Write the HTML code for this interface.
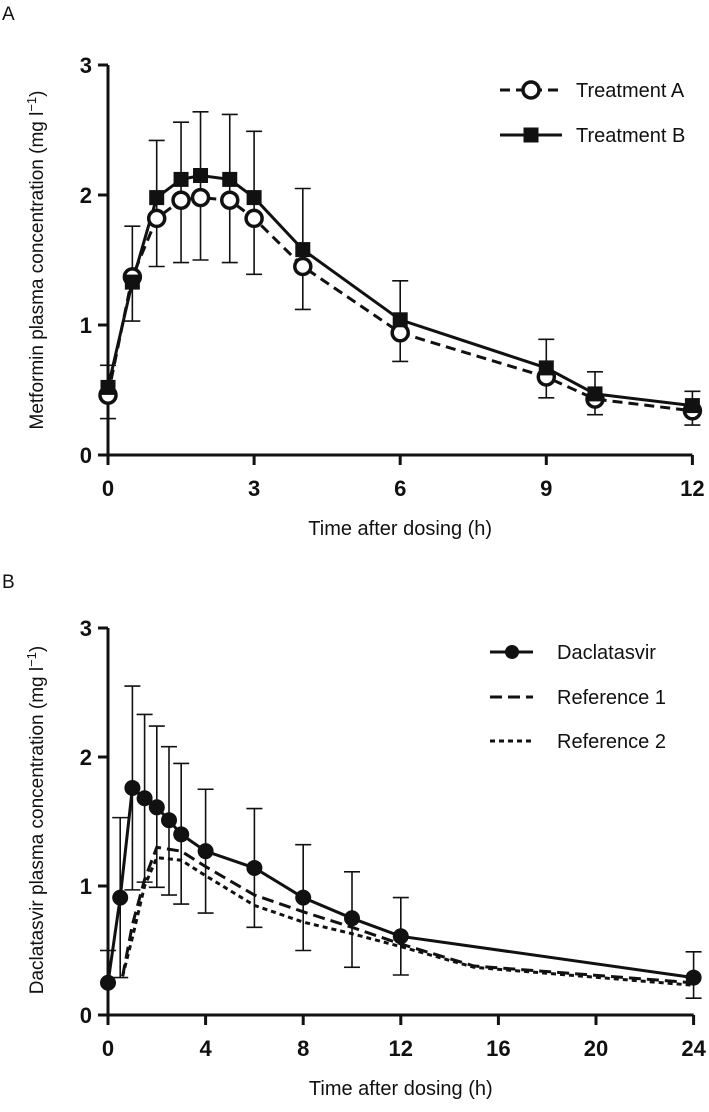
<!DOCTYPE html>
<html><head><meta charset="utf-8"><style>
html,body{margin:0;padding:0;background:#fff}
svg text{font-family:"Liberation Sans",sans-serif;fill:#111}
</style></head><body>
<svg id="c" width="709" height="1107" viewBox="0 0 709 1107">
<text x="2" y="20" font-size="19">A</text>
<text x="2" y="588" font-size="19">B</text>
</svg>
<script>
// Panel A data
const aTimes=[0,0.5,1,1.5,1.9,2.5,3,4,6,9,10,12];
const trtA=[0.46,1.37,1.82,1.96,1.98,1.96,1.82,1.45,0.94,0.60,0.43,0.34];
const trtB=[0.52,1.33,1.98,2.12,2.15,2.12,1.98,1.58,1.04,0.67,0.47,0.38];
const aErrHi=[0.69,1.76,2.42,2.56,2.64,2.62,2.49,2.05,1.34,0.89,0.64,0.49];
const aErrLo=[0.28,1.03,1.45,1.48,1.50,1.48,1.39,1.12,0.72,0.44,0.31,0.23];
const aXTicks=[0,3,6,9,12];
const yTicks=[0,1,2,3];
// Panel B data
const bTimes=[0,0.5,1,1.5,2,2.5,3,4,6,8,10,12,24];
const dacla=[0.25,0.91,1.76,1.68,1.61,1.51,1.40,1.27,1.14,0.91,0.75,0.61,0.29];
const bErrHi=[0.50,1.53,2.55,2.33,2.24,2.08,1.95,1.75,1.60,1.32,1.11,0.91,0.49];
const bErrLo=[0.25,0.29,0.97,1.03,0.99,0.93,0.86,0.79,0.68,0.50,0.37,0.31,0.13];
const refTimes=[0.6,1,1.5,2,3,4,6,8,10,12,15,24];
const ref1=[0.30,0.70,1.05,1.30,1.27,1.15,0.93,0.80,0.68,0.55,0.38,0.25];
const ref2=[0.30,0.60,1.00,1.22,1.20,1.08,0.85,0.72,0.63,0.53,0.37,0.23];
const bXTicks=[0,4,8,12,16,20,24];

const svg=document.getElementById('c');
const NS='http://www.w3.org/2000/svg';
function mk(tag,attrs,name,parent){
  const e=document.createElementNS(NS,tag);
  for(const k in attrs)e.setAttribute(k,attrs[k]);
  
  
  (parent||svg).appendChild(e);return e;
}
function poly(xs,ys,sx,sy){return xs.map((t,i)=>sx(t).toFixed(1)+','+sy(ys[i]).toFixed(1)).join(' ');}

function axes(sx,sy,xt,xmax,ytop,title,ytitle,ycenter){
  const x0=sx(0),y0=sy(0);
  mk('line',{x1:x0,y1:sy(3),x2:x0,y2:y0+10,stroke:'#111','stroke-width':3},'y-axis-line');
  mk('line',{x1:x0-10,y1:y0,x2:sx(xmax),y2:y0,stroke:'#111','stroke-width':3},'x-axis-line');
  yTicks.forEach(v=>{
    mk('line',{x1:x0-10,y1:sy(v),x2:x0,y2:sy(v),stroke:'#111','stroke-width':3},'y-tick');
    const t=mk('text',{x:x0-16,y:sy(v)+8,'font-size':22,'font-weight':'bold','text-anchor':'end'},'y-tick-label');t.textContent=v;
  });
  xt.forEach(v=>{
    mk('line',{x1:sx(v),y1:y0,x2:sx(v),y2:y0+10,stroke:'#111','stroke-width':3},'x-tick');
    const t=mk('text',{x:sx(v),y:y0+41,'font-size':22,'font-weight':'bold','text-anchor':'middle'},'x-tick-label');t.textContent=v;
  });
  const xtl=mk('text',{x:(sx(0)+sx(xmax))/2,y:y0+80,'font-size':20,'text-anchor':'middle'},'x-axis-title');xtl.textContent=title;
  const ytl=mk('text',{x:0,y:0,'font-size':19,'text-anchor':'middle',transform:`translate(43,${ycenter}) rotate(-90)`},'y-axis-title');
  ytl.innerHTML=ytitle;
}
function errs(xs,hi,lo,sx,sy,w){
  xs.forEach((t,i)=>{
    const x=sx(t);
    mk('line',{x1:x,y1:sy(hi[i]),x2:x,y2:sy(lo[i]),stroke:'#111','stroke-width':1.6},'error-bar');
    mk('line',{x1:x-w,y1:sy(hi[i]),x2:x+w,y2:sy(hi[i]),stroke:'#111','stroke-width':1.6},'error-cap');
    mk('line',{x1:x-w,y1:sy(lo[i]),x2:x+w,y2:sy(lo[i]),stroke:'#111','stroke-width':1.6},'error-cap');
  });
}

// Panel A
const sxA=t=>108+t*48.7, syA=v=>455-v*130;
axes(sxA,syA,aXTicks,12,3,'Time after dosing (h)','Metformin plasma concentration (mg l<tspan baseline-shift="super" font-size="13">−1</tspan>)',260);
errs(aTimes,aErrHi,aErrLo,sxA,syA,8);
mk('polyline',{points:poly(aTimes,trtA,sxA,syA),fill:'none',stroke:'#111','stroke-width':3,'stroke-dasharray':'10,6'},'treatment-a-line');
mk('polyline',{points:poly(aTimes,trtB,sxA,syA),fill:'none',stroke:'#111','stroke-width':3},'treatment-b-line');
aTimes.forEach((t,i)=>{
  mk('circle',{cx:sxA(t),cy:syA(trtA[i]),r:8,fill:'#fff',stroke:'#111','stroke-width':3.5},'treatment-a-point');
  mk('rect',{x:sxA(t)-7.5,y:syA(trtB[i])-7.5,width:15,height:15,fill:'#111'},'treatment-b-point');
});
// legend A
const lgA=mk('g',{},'legend-a');
mk('line',{x1:500,y1:90,x2:562,y2:90,stroke:'#111','stroke-width':3,'stroke-dasharray':'10,6'},'legend-line-a',lgA);
mk('circle',{cx:531,cy:90,r:8,fill:'#fff',stroke:'#111','stroke-width':3.5},'legend-marker-a',lgA);
let t=mk('text',{x:576,y:97,'font-size':20},'legend-label-a',lgA);t.textContent='Treatment A';
mk('line',{x1:500,y1:135,x2:562,y2:135,stroke:'#111','stroke-width':3},'legend-line-b',lgA);
mk('rect',{x:523.5,y:127.5,width:15,height:15,fill:'#111'},'legend-marker-b',lgA);
t=mk('text',{x:576,y:142,'font-size':20},'legend-label-b',lgA);t.textContent='Treatment B';

// Panel B
const sxB=t=>108+t*24.4, syB=v=>1015-v*129;
axes(sxB,syB,bXTicks,24,3,'Time after dosing (h)','Daclatasvir plasma concentration (mg l<tspan baseline-shift="super" font-size="13">−1</tspan>)',820);
errs(bTimes,bErrHi,bErrLo,sxB,syB,8);
mk('polyline',{points:poly(refTimes,ref1,sxB,syB),fill:'none',stroke:'#111','stroke-width':3,'stroke-dasharray':'12,6'},'reference-1-line');
mk('polyline',{points:poly(refTimes,ref2,sxB,syB),fill:'none',stroke:'#111','stroke-width':3,'stroke-dasharray':'5,4'},'reference-2-line');
mk('polyline',{points:poly(bTimes,dacla,sxB,syB),fill:'none',stroke:'#111','stroke-width':3},'daclatasvir-line');
bTimes.forEach((tt,i)=>{
  mk('circle',{cx:sxB(tt),cy:syB(dacla[i]),r:8,fill:'#111'},'daclatasvir-point');
});
const lgB=mk('g',{},'legend-b');
mk('line',{x1:490,y1:652,x2:533,y2:652,stroke:'#111','stroke-width':3},'legend-line-daclatasvir',lgB);
mk('circle',{cx:512,cy:652,r:7,fill:'#111'},'legend-marker-daclatasvir',lgB);
t=mk('text',{x:557,y:659,'font-size':20},'legend-label-daclatasvir',lgB);t.textContent='Daclatasvir';
mk('line',{x1:490,y1:697,x2:533,y2:697,stroke:'#111','stroke-width':3,'stroke-dasharray':'12,6'},'legend-line-reference-1',lgB);
t=mk('text',{x:557,y:704,'font-size':20},'legend-label-reference-1',lgB);t.textContent='Reference 1';
mk('line',{x1:490,y1:741,x2:533,y2:741,stroke:'#111','stroke-width':3,'stroke-dasharray':'5,4'},'legend-line-reference-2',lgB);
t=mk('text',{x:557,y:748,'font-size':20},'legend-label-reference-2',lgB);t.textContent='Reference 2';
</script>
</body></html>
